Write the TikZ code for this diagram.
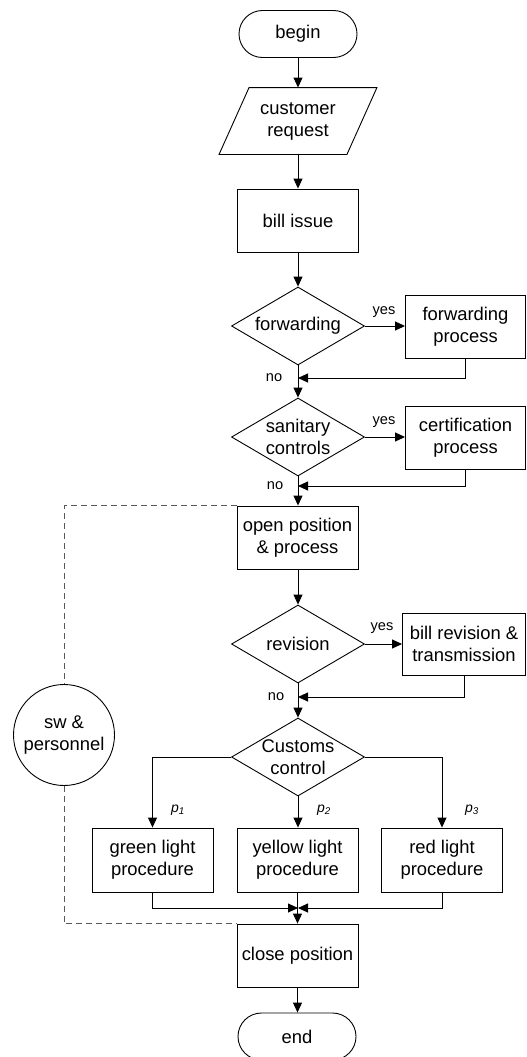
\documentclass[tikz,border=0pt]{standalone}
\usepackage{fontspec}
\setmainfont{Liberation Sans}
\usetikzlibrary{shapes.geometric,arrows.meta,calc}
\begin{document}
\begin{tikzpicture}[x=1pt,y=-1pt,
  line width=0.9pt,
  every node/.style={font=\fontsize{18.4}{22}\selectfont, align=center},
  box/.style={draw, rectangle, minimum width=121pt, minimum height=63pt, inner sep=0pt},
  term/.style={draw, rectangle, rounded corners=23.5pt, minimum width=118pt, minimum height=47pt, inner sep=0pt},
  dia/.style={draw, diamond, minimum width=133pt, minimum height=78pt, inner sep=0pt},
  arr/.style={-{Triangle[length=10pt,width=9pt]}},
  lbl/.style={font=\fontsize{14.6}{16}\selectfont, inner sep=0pt},
  plbl/.style={font=\fontsize{14}{16}\selectfont\itshape, inner sep=0pt},
  dsh/.style={dash pattern=on 6pt off 4pt, draw=black!65}
]
\useasboundingbox (0,0) rectangle (527,1057);

% main column
\node[term] (begin) at (298,34) {begin};
\node[minimum width=127pt, minimum height=66pt, inner sep=0pt] (req) at (298,121) {customer\\request};
\draw ($(req.north west)+(15,0)$) -- ($(req.north east)+(15,0)$) -- ($(req.south east)+(-15,0)$) -- ($(req.south west)+(-15,0)$) -- cycle;
\node[box] (bill) at (298,220.5) {bill issue};
\node[dia, label={center:forwarding}] (fwd) at (298,326) {};
\node[box, minimum width=120pt] (fp) at (465.5,326.5) {forwarding\\process};
\node[dia, label={[align=center]center:sanitary\\controls}] (san) at (298,437) {};
\node[box, minimum width=120pt] (cp) at (465.5,437.5) {certification\\process};
\node[box] (open) at (297.5,537.5) {open position\\\& process};
\node[dia, label={center:revision}] (rev) at (298,644) {};
\node[box, minimum width=123pt, minimum height=62pt] (br) at (464,644) {bill revision \&\\transmission};
\node[dia, label={[align=center]center:Customs\\control}] (cc) at (298,757) {};
\node[box, minimum height=64pt] (green) at (152.5,860) {green light\\procedure};
\node[box, minimum height=64pt] (yellow) at (297.5,860) {yellow light\\procedure};
\node[box, minimum height=64pt] (red) at (442,860) {red light\\procedure};
\node[box] (close) at (297.5,955.5) {close position};
\node[term] (end) at (297,1036.5) {end};
\node[draw, circle, minimum size=101pt, inner sep=0pt] (sw) at (64,735) {sw \&\\personnel};

% junctions
\coordinate (j1) at (298,378);
\coordinate (j2) at (298,486);
\coordinate (j3) at (298,697);
\coordinate (j4) at (298,908);

% connectors
\draw[arr] (begin.south) -- (begin.south |- req.north);
\draw[arr] (req.south) -- (req.south |- bill.north);
\draw[arr] (bill.south) -- (fwd.north);
\draw[arr] (fwd.east) -- (fwd.east -| fp.west);
\draw[arr] (fwd.south) -- (san.north);
\draw[arr] (fp.south) |- (j1);
\draw[arr] (san.east) -- (san.east -| cp.west);
\draw[arr] (san.south) -- (san.south |- open.north);
\draw[arr] (cp.south) |- (j2);
\draw[arr] (open.south) -- (open.south -| rev.north) -- (rev.north);
\draw[arr] (rev.east) -- (rev.east -| br.west);
\draw[arr] (rev.south) -- (cc.north);
\draw[arr] (br.south) |- (j3);
\draw[arr] (cc.west) -| (green.north);
\draw[arr] (cc.south) -- (cc.south |- yellow.north);
\draw[arr] (cc.east) -| (red.north);
\draw[arr] (green.south) |- (j4);
\draw[arr] (red.south) |- (j4);
\draw[arr] (yellow.south) -- (close.north);
\draw[arr] (close.south) -- (close.south |- end.north);

% dashed resource links
\draw[dsh] (open.north west) -| (sw.north);
\draw[dsh] (sw.south) |- (close.north west);

% labels
\node[lbl] (y1) at (384,312) {yes};
\node[lbl] (y2) at (384,422) {yes};
\node[lbl] (y3) at (382,628) {yes};
\node[lbl] (n1) at (274,378) {no};
\node[lbl] (n2) at (275,486) {no};
\node[lbl] (n3) at (276,697) {no};
\node[plbl] (p1) at (178,810) {p\textsubscript{1}};
\node[plbl] (p2) at (324,810) {p\textsubscript{2}};
\node[plbl] (p3) at (472,810) {p\textsubscript{3}};
\end{tikzpicture}
\end{document}
